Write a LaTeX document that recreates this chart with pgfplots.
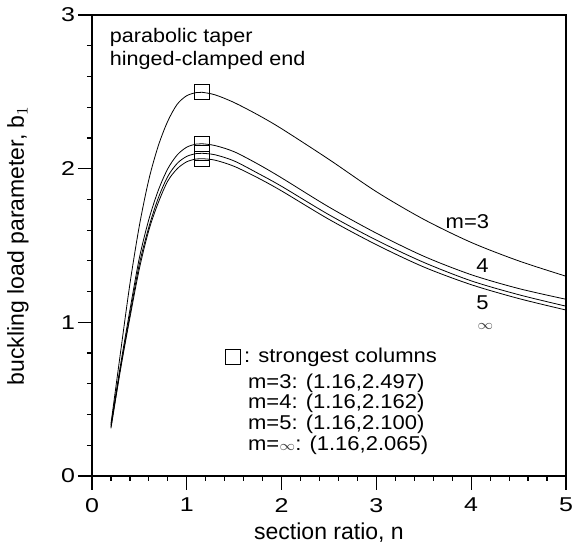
\documentclass[border=0pt]{standalone}
\usepackage{fontspec}
\setmainfont{Liberation Sans}
\newfontfamily\tickfont{Liberation Sans}[FakeStretch=1.25]
\newfontfamily\txtfont{Liberation Sans}[FakeStretch=1.1]
\usepackage{pgfplots}
\usepackage{pgfplotstable}
\pgfplotsset{compat=1.18}

\pgfplotstableread{
n     b3     b4     b5     binf
0.2   0.34   0.33   0.32   0.31
0.3   0.80   0.72   0.70   0.69
0.4   1.25   1.08   1.05   1.03
0.5   1.63   1.42   1.38   1.35
0.6   1.93   1.67   1.62   1.60
0.7   2.15   1.86   1.81   1.78
0.8   2.31   2.00   1.95   1.92
0.9   2.42   2.09   2.035  2.00
1.0   2.475  2.14   2.08   2.045
1.1   2.495  2.16   2.098  2.063
1.16  2.497  2.162  2.100  2.065
1.3   2.48   2.15   2.09   2.055
1.5   2.43   2.11   2.05   2.015
1.75  2.35   2.03   1.97   1.94
2.0   2.26   1.94   1.885  1.855
2.5   2.06   1.75   1.70   1.67
3.0   1.85   1.58   1.535  1.505
3.5   1.67   1.43   1.39   1.36
4.0   1.52   1.31   1.27   1.245
4.5   1.40   1.22   1.18   1.155
5.0   1.30   1.15   1.105  1.08
}\curves

\begin{document}
\begin{tikzpicture}
\begin{axis}[
  width=237pt, height=230.5pt, scale only axis,
  xmin=0, xmax=5, ymin=0, ymax=3,
  xtick={0,1,2,3,4,5}, ytick={0,1,2,3},
  minor x tick num=4, minor y tick num=4,
  tick align=outside, tick pos=left,
  major tick length=7pt, minor tick length=2.5pt,
  axis line style={line width=0.8pt},
  every tick/.style={black, line width=0.6pt},
  /pgf/number format/assume math mode=true,
  tick label style={font=\tickfont\fontsize{10}{11}\selectfont},
  every x tick label/.append style={yshift=-0.5pt},
  every y tick label/.append style={xshift=2pt},
  xlabel={section ratio, n},
  ylabel={buckling load parameter, b$_1$},
  every axis x label/.style={at={(axis description cs:0.5,0)}, yshift=-28.5pt, anchor=center, font=\fontsize{11.5}{13}\selectfont},
  every axis y label/.style={at={(axis description cs:-0.156,0.5)}, rotate=90, anchor=center, font=\fontsize{11.5}{13}\selectfont},
  legend style={at={(0.28,0.258)}, anchor=west, draw=none, fill=none, inner sep=0pt,
    font=\txtfont\fontsize{10}{9}\selectfont},
  legend cell align=left,
]
\addplot[black, line width=0.4pt, smooth, forget plot] table[x=n, y=b3] {\curves};
\addplot[black, line width=0.4pt, smooth, forget plot] table[x=n, y=b4] {\curves};
\addplot[black, line width=0.4pt, smooth, forget plot] table[x=n, y=b5] {\curves};
\addplot[black, line width=0.4pt, smooth, forget plot] table[x=n, y=binf] {\curves};
\addplot[only marks, mark=square, mark size=3.75pt, mark options={black, line width=0.5pt}]
  coordinates {(1.16,2.497) (1.16,2.162) (1.16,2.100) (1.16,2.065)};
\addlegendentry{: strongest columns}

\node[anchor=west, font=\txtfont\fontsize{9.8}{11}\selectfont, inner sep=0pt] at (axis cs:0.185,2.856) {parabolic taper};
\node[anchor=west, font=\txtfont\fontsize{9.8}{11}\selectfont, inner sep=0pt] at (axis cs:0.185,2.707) {hinged-clamped end};

\node[font=\txtfont\fontsize{10}{11}\selectfont, inner sep=0pt] at (axis cs:3.96,1.653) {m=3};
\node[font=\txtfont\fontsize{10}{11}\selectfont, inner sep=0pt] at (axis cs:4.12,1.366) {4};
\node[font=\txtfont\fontsize{10}{11}\selectfont, inner sep=0pt] at (axis cs:4.12,1.13) {5};
\node[inner sep=0pt, text=black!75] at (axis cs:4.15,0.976) {\fontsize{7.5}{8}\selectfont$\infty$};

\node[anchor=north west, align=left, inner sep=0pt, font=\txtfont\fontsize{10}{9}\selectfont]
  at (axis cs:1.643,0.668) {m=3: (1.16,2.497)\\m=4: (1.16,2.162)\\m=5: (1.16,2.100)\\m={\color{black!75}\fontsize{7}{7}\selectfont$\infty$}: (1.16,2.065)};
\end{axis}
\pgfresetboundingbox
\useasboundingbox (current axis.south west) ++(-46pt,-36.5pt) rectangle ([shift={(4.5pt,7.5pt)}]current axis.north east);
\end{tikzpicture}
\end{document}
